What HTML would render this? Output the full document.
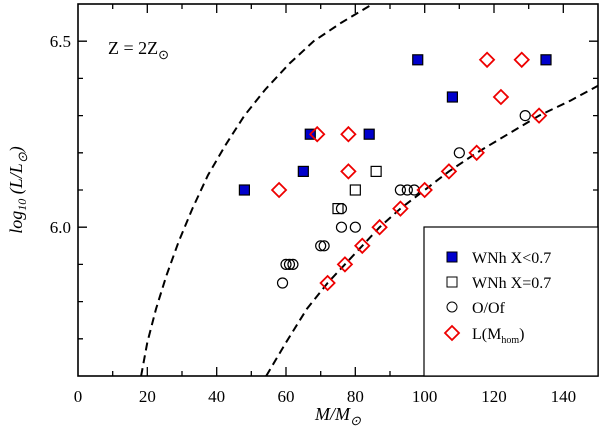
<!DOCTYPE html>
<html><head><meta charset="utf-8"><style>
body{margin:0;background:#fff;}
svg{display:block;font-family:"Liberation Serif",serif;}
</style></head><body>
<svg id="chart" width="600" height="437" viewBox="0 0 600 437">
<rect x="78" y="4" width="520" height="372" fill="none" stroke="#000" stroke-width="1.6"/>
<path id="ticks" d="" fill="none" stroke="#000" stroke-width="1.3"/>
<g id="axes"></g>
<g id="marks"></g>
<g>
<rect x="424" y="227" width="174" height="149" fill="#fff" stroke="#000" stroke-width="1.2"/>
<rect x="447" y="252" width="10" height="10" fill="#0000cc" stroke="#000"/>
<text x="472" y="263" font-size="16">WNh X&lt;0.7</text>
<rect x="447" y="277" width="10" height="10" fill="none" stroke="#000"/>
<text x="472" y="288" font-size="16">WNh X=0.7</text>
<circle cx="452" cy="307" r="5" fill="none" stroke="#000"/>
<text x="472" y="313" font-size="16">O/Of</text>
<path d="M445,333 L452,326 L459,333 L452,340 Z" fill="none" stroke="#e00" stroke-width="1.8"/>
<text x="472" y="339" font-size="16">L(M<tspan font-size="10" dy="4">hom</tspan><tspan dy="-4">)</tspan></text>
</g>
<text x="108" y="54" font-size="18">Z = 2Z<tspan font-size="13" dy="5">⊙</tspan></text>
<text x="338" y="420" font-size="18" font-style="italic" text-anchor="middle">M/M<tspan font-size="13" dy="5">⊙</tspan></text>
<text transform="translate(22,190) rotate(-90)" font-size="18" font-style="italic" text-anchor="middle">log<tspan font-size="12" dy="4">10</tspan><tspan dy="-4"> (L/L</tspan><tspan font-size="13" dy="5">⊙</tspan><tspan dy="-5">)</tspan></text>
</svg>
<script>
const wnhFilledM=[48,65,67,84,98,108,135];
const wnhFilledL=[6.1,6.15,6.25,6.25,6.45,6.35,6.45];
const wnhOpenM=[75,80,86];
const wnhOpenL=[6.05,6.1,6.15];
const ooM=[59,60,61,62,70,71,76,76,80,93,95,97,110,129];
const ooL=[5.85,5.9,5.9,5.9,5.95,5.95,6.05,6.0,6.0,6.1,6.1,6.1,6.2,6.3];
const homM=[58,69,78,78,118,128,122,133,115,107,100,93,87,82,77,72];
const homL=[6.1,6.25,6.25,6.15,6.45,6.45,6.35,6.3,6.2,6.15,6.1,6.05,6.0,5.95,5.9,5.85];
const leftCurveM=[18.2,20,22.5,25.5,29,33,37.5,42.5,48,54,61,68,76,85];
const leftCurveL=[5.6,5.69,5.78,5.87,5.96,6.05,6.14,6.22,6.3,6.37,6.44,6.5,6.55,6.6];
const rightCurveM=[54.3,60,66,72,77,82,87,93,100,107,115,124,133,142,150];
const rightCurveL=[5.6,5.69,5.78,5.85,5.9,5.95,6.0,6.05,6.1,6.15,6.2,6.25,6.3,6.34,6.38];
const xTicks=[0,20,40,60,80,100,120,140];
const yTicks=[6.0,6.5];

const NS="http://www.w3.org/2000/svg";
const axes=document.getElementById('axes');
const marks=document.getElementById('marks');
const X0=78,X1=598,Y0=376,Y1=4;
const xs=m=>X0+m/150*(X1-X0);
const ys=l=>Y0-(l-5.6)/1.0*(Y0-Y1);
function mk(t,a,p){const e=document.createElementNS(NS,t);for(const k in a)e.setAttribute(k,a[k]);p.appendChild(e);return e;}

let td='';
for(let m=10;m<150;m+=10){
  const len=(m%20===0)?9:5,x=xs(m).toFixed(1);
  td+=`M${x},${Y0}V${Y0-len}M${x},${Y1}V${Y1+len}`;
}
for(let i=1;i<10;i++){
  const len=(i===4||i===9)?9:5,y=ys(5.6+i*0.1).toFixed(1);
  td+=`M${X0},${y}H${X0+len}M${X1},${y}H${X1-len}`;
}
document.getElementById('ticks').setAttribute('d',td);
xTicks.forEach(m=>{
  const t=mk('text',{x:xs(m),y:Y0+26,'text-anchor':'middle','font-size':17},axes);
  t.textContent=m;
  
  
});
yTicks.forEach(l=>{
  const t=mk('text',{x:X0-7,y:ys(l)+6,'text-anchor':'end','font-size':17},axes);
  t.textContent=l.toFixed(1);
  
  
});
function curve(M,L,name){
  const d=M.map((m,i)=>(i?'L':'M')+xs(m).toFixed(1)+','+ys(L[i]).toFixed(1)).join(' ');
  const p=mk('path',{d:d,fill:'none',stroke:'#000','stroke-width':2,'stroke-dasharray':'8,5'},marks);
  
  
}
curve(leftCurveM,leftCurveL,'left-dashed-curve');
curve(rightCurveM,rightCurveL,'right-dashed-curve');
function sq(x,y,fill){return mk('rect',{x:x-5,y:y-5,width:10,height:10,fill:fill,stroke:'#000','stroke-width':1.2},marks);}
function ci(x,y){return mk('circle',{cx:x,cy:y,r:5,fill:'none',stroke:'#000','stroke-width':1.2},marks);}
function di(x,y){return mk('path',{d:`M${x-7},${y} L${x},${y-7} L${x+7},${y} L${x},${y+7} Z`,fill:'none',stroke:'#e00','stroke-width':1.8},marks);}
wnhFilledM.forEach((m,i)=>{const e=sq(xs(m),ys(wnhFilledL[i]),'#0000cc');
  
  });
wnhOpenM.forEach((m,i)=>{const e=sq(xs(m),ys(wnhOpenL[i]),'none');
  
  });
ooM.forEach((m,i)=>{const e=ci(xs(m),ys(ooL[i]));
  
  });
homM.forEach((m,i)=>{const e=di(xs(m),ys(homL[i]));
  
  });
</script>
</body></html>
